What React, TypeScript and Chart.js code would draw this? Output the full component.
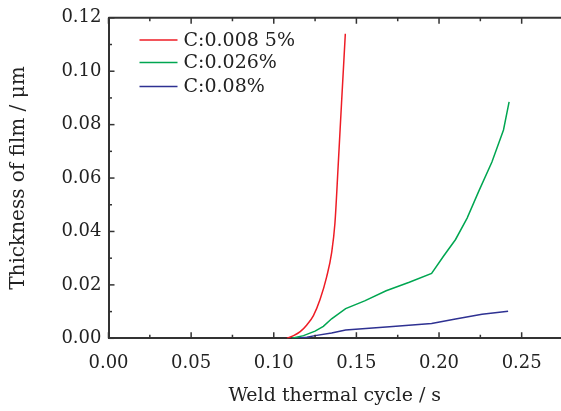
import React, { useEffect, useRef } from "react";
import { Chart, registerables } from "chart.js";

Chart.register(...registerables);

const seriesNames = ["C:0.008 5%", "C:0.026%", "C:0.08%"];
const seriesColors = ["#ee1c25", "#00a651", "#2e3192"];

const redX = [0.108, 0.112, 0.116, 0.12, 0.124, 0.128, 0.132, 0.135, 0.137, 0.139, 0.141, 0.1433];
const redY = [0.0, 0.001, 0.0025, 0.005, 0.0085, 0.0145, 0.023, 0.032, 0.043, 0.065, 0.088, 0.114];

const greenX = [0.111, 0.118, 0.125, 0.13, 0.135, 0.1435, 0.155, 0.168, 0.182, 0.1955, 0.203, 0.21, 0.217, 0.224, 0.232, 0.239, 0.2424];
const greenY = [0.0, 0.001, 0.0027, 0.0045, 0.0073, 0.0111, 0.014, 0.0178, 0.021, 0.0243, 0.031, 0.037, 0.045, 0.055, 0.066, 0.078, 0.0885];

const blueX = [0.113, 0.12, 0.125, 0.135, 0.1435, 0.17, 0.1955, 0.21, 0.226, 0.2418];
const blueY = [0.0, 0.0004, 0.001, 0.002, 0.0031, 0.0043, 0.0055, 0.0072, 0.009, 0.0101];

const xMin = 0;
const xMax = 0.2738;
const xStep = 0.025;
const yMin = 0;
const yMax = 0.12;
const yStep = 0.01;

const xTitle = "Weld thermal cycle / s";
const yTitle = "Thickness of film / μm";

const FONT = "'DejaVu Serif', serif";
const AXIS_COLOR = "#333333";

const toPoints = (xs: number[], ys: number[]) => xs.map((x, i) => ({ x, y: ys[i] }));

const isMajorX = (v: number) => Math.abs(Math.round(v / 0.05) * 0.05 - v) < 1e-6;
const isMajorY = (v: number) => Math.abs(Math.round(v / 0.02) * 0.02 - v) < 1e-6;

const decorPlugin = {
  id: "decor",
  afterDraw(chart: any) {
    const { ctx, chartArea } = chart;
    const xs = chart.scales.x;
    const ys = chart.scales.y;
    ctx.save();
    ctx.strokeStyle = AXIS_COLOR;
    ctx.beginPath();
    ctx.lineWidth = 2;
    ctx.moveTo(chartArea.left, chartArea.top);
    ctx.lineTo(chartArea.right, chartArea.top);
    ctx.stroke();
    ctx.lineWidth = 1.5;
    xs.ticks.forEach((t: any) => {
      const px = xs.getPixelForValue(t.value);
      const len = isMajorX(t.value) ? 6 : 3.5;
      ctx.beginPath();
      ctx.moveTo(px, chartArea.bottom);
      ctx.lineTo(px, chartArea.bottom - len);
      ctx.moveTo(px, chartArea.top);
      ctx.lineTo(px, chartArea.top + len);
      ctx.stroke();
    });
    ys.ticks.forEach((t: any) => {
      const py = ys.getPixelForValue(t.value);
      const len = isMajorY(t.value) ? 6 : 3.5;
      ctx.beginPath();
      ctx.moveTo(chartArea.left, py);
      ctx.lineTo(chartArea.left + len, py);
      ctx.stroke();
    });
    const lx0 = chartArea.left + 31;
    const lx1 = chartArea.left + 69;
    const tx = chartArea.left + 75;
    const rows = [40, 62.5, 86.5];
    ctx.font = `19px ${FONT}`;
    ctx.textBaseline = "middle";
    ctx.textAlign = "left";
    chart.data.datasets.forEach((ds: any, i: number) => {
      ctx.strokeStyle = ds.borderColor;
      ctx.lineWidth = 1.5;
      ctx.beginPath();
      ctx.moveTo(lx0, rows[i]);
      ctx.lineTo(lx1, rows[i]);
      ctx.stroke();
      ctx.fillStyle = "#222222";
      ctx.fillText(ds.label, tx, rows[i] + 1);
    });
    ctx.restore();
  },
};

export default function App() {
  const ref = useRef<HTMLCanvasElement | null>(null);

  useEffect(() => {
    document.body.style.margin = "0";
    if (!ref.current) return;
    const chart = new Chart(ref.current, {
      type: "line",
      data: {
        datasets: [
          { label: seriesNames[0], data: toPoints(redX, redY), borderColor: seriesColors[0], cubicInterpolationMode: "monotone" },
          { label: seriesNames[1], data: toPoints(greenX, greenY), borderColor: seriesColors[1], tension: 0 },
          { label: seriesNames[2], data: toPoints(blueX, blueY), borderColor: seriesColors[2], tension: 0 },
        ].map((d) => ({ ...d, borderWidth: 1.5, pointRadius: 0, fill: false })),
      },
      options: {
        animation: false,
        responsive: false,
        maintainAspectRatio: false,
        layout: { padding: { top: 13.7, right: 0, left: 0, bottom: 0 } },
        plugins: { legend: { display: false }, tooltip: { enabled: false } },
        scales: {
          x: {
            type: "linear",
            min: xMin,
            max: xMax,
            grid: { display: false, drawTicks: false },
            border: { display: true, color: AXIS_COLOR, width: 2 },
            ticks: {
              stepSize: xStep,
              includeBounds: false,
              autoSkip: false,
              maxRotation: 0,
              padding: 14,
              color: "#222222",
              font: { family: FONT, size: 18 },
              callback: (v: any) => (isMajorX(Number(v)) ? Number(v).toFixed(2) : ""),
            },
            title: {
              display: true,
              text: xTitle,
              color: "#222222",
              font: { family: FONT, size: 19 },
              padding: { top: 0, bottom: 4 },
            },
            afterFit: (s: any) => {
              s.height = 72.7;
            },
          },
          y: {
            type: "linear",
            min: yMin,
            max: yMax,
            grid: { display: false, drawTicks: false },
            border: { display: true, color: AXIS_COLOR, width: 2 },
            ticks: {
              stepSize: yStep,
              autoSkip: false,
              padding: 7,
              color: "#222222",
              font: { family: FONT, size: 18 },
              callback: (v: any) => (isMajorY(Number(v)) ? Number(v).toFixed(2) : ""),
            },
            title: {
              display: true,
              text: yTitle,
              color: "#222222",
              font: { family: FONT, size: 20 },
              padding: { top: 7, bottom: 0 },
            },
            afterFit: (s: any) => {
              s.width = 108.5;
            },
          },
        },
      },
      plugins: [decorPlugin],
    } as any);
    return () => chart.destroy();
  }, []);

  return (
    <div style={{ position: "absolute", left: 0, top: 0, width: 561, height: 411 }}>
      <canvas ref={ref} width={561} height={411} style={{ width: 561, height: 411, display: "block" }} />
    </div>
  );
}
